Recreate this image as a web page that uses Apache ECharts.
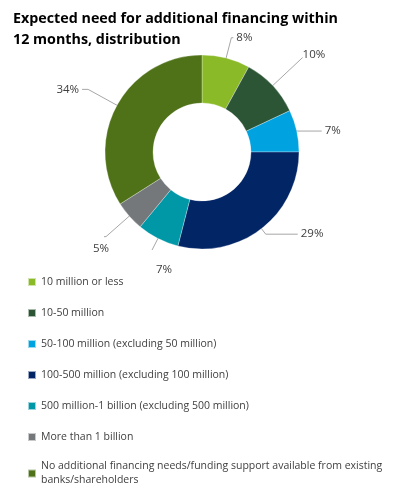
<!DOCTYPE html>
<html>
<head>
<meta charset="utf-8">
<script src="https://cdn.jsdelivr.net/npm/echarts@6/dist/echarts.min.js"></script>
<style>html,body{margin:0;padding:0;background:#fff;}#c{width:395px;height:487px;}</style>
</head>
<body>
<div id="c"></div>
<script>
const titleText = "Expected need for additional financing within\n12 months, distribution";
const categories = [
  "10 million or less",
  "10-50 million",
  "50-100 million (excluding 50 million)",
  "100-500 million (excluding 100 million)",
  "500 million-1 billion (excluding 500 million)",
  "More than 1 billion",
  "No additional financing needs/funding support available from existing\nbanks/shareholders"
];
const values = [8, 10, 7, 29, 7, 5, 34];
const colors = ["#8aba28", "#2b5535", "#00a3e0", "#022566", "#0097a7", "#75787b", "#4f7219"];
// leader line lengths per slice [radial, horizontal]
const leaderLengths = [[44, 2], [64, 0], [22, 26], [30, 32], [36, 0], [54, 2], [56, 6]];

const chart = echarts.init(document.getElementById('c'), null, {renderer: 'canvas'});
const font = "'Open Sans', 'Liberation Sans', sans-serif";
const data = categories.map((n, i) => ({name: n, value: values[i], itemStyle: {color: colors[i]}}));
const labelData = categories.map((n, i) => {
  const d = {name: n, value: values[i], labelLine: {length: leaderLengths[i][0], length2: leaderLengths[i][1]}};
  if (i === 1) d.label = {offset: [-3, -3]};
  if (i === 4) d.label = {offset: [23, 20]};
  if (i === 5) d.label = {offset: [8, 12]};
  return d;
});
const legendData = categories.map((n, i) => i === categories.length - 1
  ? {name: n, textStyle: {verticalAlign: 'top', padding: [-7, 0, 0, 0]}}
  : {name: n});

chart.setOption({
  animation: false,
  title: {
    text: titleText,
    left: 8, top: 3,
    textStyle: {fontFamily: font, fontSize: 14.3, fontWeight: 'bold', color: '#000', lineHeight: 21}
  },
  legend: {
    orient: 'vertical',
    left: 22, top: 270,
    width: 370, height: 300,
    itemWidth: 8, itemHeight: 8, itemGap: 17,
    icon: 'rect',
    selectedMode: false,
    textStyle: {fontFamily: font, fontSize: 10.5, color: '#404040', lineHeight: 14},
    data: legendData
  },
  series: [
    {
      type: 'pie',
      center: [202, 152],
      radius: [49, 97],
      startAngle: 90,
      clockwise: true,
      data: data,
      itemStyle: {borderColor: 'rgba(255,255,255,0.6)', borderWidth: 0.5},
      label: {show: false},
      labelLine: {show: false},
      emphasis: {disabled: true}
    },
    {
      type: 'pie',
      center: [202, 152],
      radius: [0, 74],
      startAngle: 90,
      clockwise: true,
      data: labelData,
      itemStyle: {color: 'rgba(0,0,0,0)'},
      legendHoverLink: false,
      silent: true,
      avoidLabelOverlap: false,
      label: {
        show: true,
        formatter: '{c}%',
        fontFamily: font,
        fontSize: 11.5,
        color: '#404040',
        distanceToLabelLine: 3
      },
      labelLine: {show: true, lineStyle: {color: '#a6a6a6', width: 1}},
      emphasis: {disabled: true}
    }
  ]
});
</script>
</body>
</html>
